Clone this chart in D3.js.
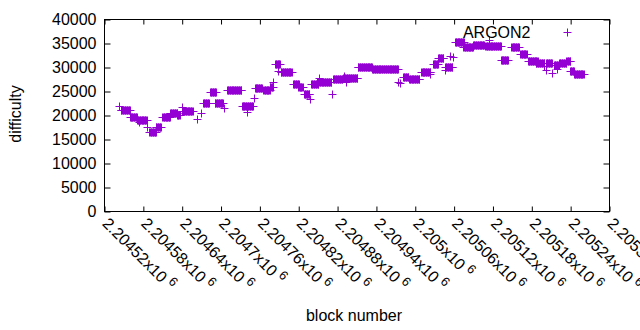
<!DOCTYPE html>
<meta charset="utf-8">
<style>
body { margin: 0; background: #fff; }
svg { font-family: "Liberation Sans", Arial, sans-serif; }
.axis text { font-size: 16px; fill: #000; }
.axis line { stroke: #000; }
.pt { stroke: #9400d3; stroke-width: 1; fill: none; }
</style>
<svg width="640" height="330"></svg>
<script src="https://d3js.org/d3.v7.min.js"></script>
<script>

// runs of consecutive blocks that share one difficulty (first block, last block, value)
var runFirst = [2204543, 2204546, 2204560, 2204571, 2204574, 2204586, 2204590, 2204600, 2204610, 2204622,
                2204633, 2204640, 2204640, 2204664, 2204670, 2204673, 2204684, 2204691, 2204705, 2204710,
                2204733, 2204741, 2204752, 2204753, 2204766, 2204776, 2204781, 2204784, 2204789, 2204793,
                2204812, 2204820, 2204829, 2204838, 2204840, 2204852, 2204849, 2204872, 2204874, 2204891,
                2204889, 2204894, 2204912, 2204934, 2204974, 2204977, 2204982, 2204991, 2205010, 2205024,
                2205028, 2205036, 2205047, 2205047, 2205054, 2205059, 2205062, 2205075, 2205090, 2205115,
                2205109, 2205133, 2205149, 2205163, 2205175, 2205187, 2205200, 2205203, 2205203, 2205212,
                2205215, 2205220, 2205223, 2205234, 2205240, 2205246];
var runLast  = [2204543, 2204560, 2204571, 2204586, 2204574, 2204586, 2204600, 2204608, 2204622, 2204633,
                2204637, 2204640, 2204657, 2204664, 2204670, 2204682, 2204693, 2204704, 2204705, 2204732,
                2204750, 2204741, 2204752, 2204764, 2204776, 2204781, 2204781, 2204792, 2204789, 2204810,
                2204821, 2204827, 2204837, 2204838, 2204851, 2204852, 2204871, 2204872, 2204888, 2204891,
                2204911, 2204894, 2204934, 2204974, 2204974, 2204977, 2204990, 2205007, 2205024, 2205024,
                2205036, 2205044, 2205047, 2205058, 2205054, 2205059, 2205076, 2205090, 2205107, 2205115,
                2205133, 2205144, 2205161, 2205173, 2205190, 2205200, 2205200, 2205212, 2205203, 2205212,
                2205223, 2205220, 2205234, 2205240, 2205246, 2205261];
var runDifficulty = [21875, 21042, 19583, 19062, 18542, 17396, 16458, 17500, 19687, 20417,
                     20000, 21667, 20833, 19167, 20417, 22437, 24729, 22437, 21562, 25146,
                     21979, 20687, 23604, 25521, 25208, 25937, 26937, 30521, 29229, 29021,
                     26396, 25833, 24375, 23271, 26458, 27646, 26812, 24312, 27437, 28125,
                     27646, 26937, 29937, 29521, 26937, 26667, 27979, 27437, 29021, 28479,
                     30625, 31917, 29375, 29937, 32292, 32146, 35271, 34229, 34646, 35625,
                     34375, 31562, 34167, 32646, 31250, 30771, 30208, 30896, 29375, 28812,
                     30417, 29521, 30771, 31208, 29125, 28500];

var yTicks = [0, 5000, 10000, 15000, 20000, 25000, 30000, 35000, 40000];
var xTicks = [2204520, 2204580, 2204640, 2204700, 2204760, 2204820, 2204880,
              2204940, 2205000, 2205060, 2205120, 2205180, 2205240, 2205300];

var seriesName = "ARGON2",
    xTitle = "block number",
    yTitle = "difficulty";

var svg = d3.select("svg"),
    margin = {top: 19, right: 31, bottom: 119, left: 104},
    width = +svg.attr("width") - margin.left - margin.right,
    height = +svg.attr("height") - margin.top - margin.bottom,
    g = svg.append("g").attr("transform", "translate(" + (margin.left + 0.5) + "," + (margin.top + 0.5) + ")");

var x = d3.scaleLinear().domain([xTicks[0], xTicks[xTicks.length - 1]]).range([0, width]);
var y = d3.scaleLinear().domain([0, 40000]).range([height, 0]);

// one point per block
var points = [];
runFirst.forEach(function(f, i) {
  for (var b = f; b <= runLast[i]; b++) points.push({block: b, diff: runDifficulty[i]});
});

function cross(cx, cy, r) {
  return "M" + (cx - r) + "," + cy + "H" + (cx + r) + "M" + cx + "," + (cy - r) + "V" + (cy + r);
}

// y axis, ticks pointing inward, mirrored on the right
g.append("g")
    .attr("class", "axis")
    .call(d3.axisLeft(y).tickValues(yTicks).tickSize(-6).tickPadding(8).tickFormat(d3.format("d")))
    .call(function(a) { a.select(".domain").remove(); a.selectAll("text").style("font-family", null).attr("font-size", null); });
g.append("g")
    .attr("class", "axis")
    .attr("transform", "translate(" + width + ",0)")
    .call(d3.axisRight(y).tickValues(yTicks).tickSize(-6).tickFormat(""))
    .call(function(a) { a.select(".domain").remove(); });

// x axis
g.append("g")
    .attr("class", "axis")
    .attr("transform", "translate(0," + height + ")")
    .call(d3.axisBottom(x).tickValues(xTicks).tickSize(-5).tickFormat(""))
    .call(function(a) { a.select(".domain").remove(); });
g.append("g")
    .attr("class", "axis")
    .call(d3.axisTop(x).tickValues(xTicks).tickSize(-5).tickFormat(""))
    .call(function(a) { a.select(".domain").remove(); });

var xl = g.append("g").attr("class", "axis")
  .selectAll("text")
  .data(xTicks)
  .enter().append("text")
    .attr("transform", function(d) { return "translate(" + (x(d) - 3) + "," + (height + 13) + ") rotate(45)"; })
    .attr("text-anchor", "start");
xl.append("tspan").text(function(d) { return String(+(d / 1e6).toFixed(5)) + "x10"; });
xl.append("tspan").attr("dx", 4).attr("dy", -6).attr("font-size", "12.8px").text("6");

// border
g.append("rect")
    .attr("width", width)
    .attr("height", height)
    .attr("fill", "none")
    .attr("stroke", "#000");

// data
g.append("g")
  .selectAll("path")
  .data(points)
  .enter().append("path")
    .attr("class", "pt")
    .attr("d", function(d) { return cross(Math.round(x(d.block)), Math.round(y(d.diff)), 4); });

// key
g.append("text")
    .attr("x", 426)
    .attr("y", 18)
    .attr("text-anchor", "end")
    .attr("font-size", "16px")
    .text(seriesName);
g.append("path")
    .attr("class", "pt")
    .attr("d", cross(463, 13, 4));

// axis titles
svg.append("text")
    .attr("x", 354)
    .attr("y", 321)
    .attr("text-anchor", "middle")
    .attr("font-size", "16px")
    .text(xTitle);
svg.append("text")
    .attr("transform", "translate(21,114) rotate(-90)")
    .attr("text-anchor", "middle")
    .attr("font-size", "16px")
    .text(yTitle);

</script>
